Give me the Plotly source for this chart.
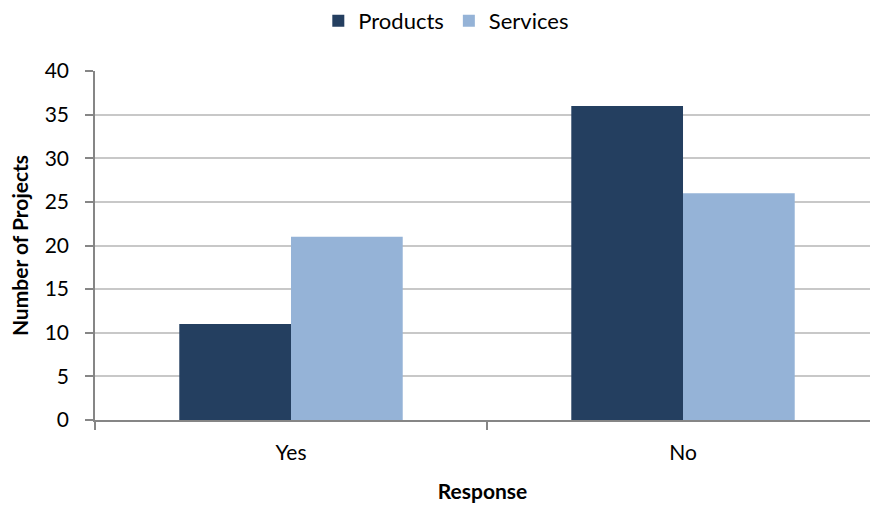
import plotly.graph_objects as go

categories = ["Yes", "No"]
products = [11, 36]
services = [21, 26]
y_ticks = [0, 5, 10, 15, 20, 25, 30, 35, 40]

FONT = "Lato, 'Open Sans', sans-serif"

fig = go.Figure()
fig.add_trace(go.Bar(name="Products", x=categories, y=products, marker_color="#243F60", marker_line_width=0))
fig.add_trace(go.Bar(name="Services", x=categories, y=services, marker_color="#95B3D7", marker_line_width=0))

fig.update_layout(
    width=870, height=506,
    margin=dict(l=95, r=0, t=71, b=86),
    paper_bgcolor="white", plot_bgcolor="white",
    barmode="group", bargap=0.43, bargroupgap=0,
    font=dict(family=FONT, size=21, color="#000000"),
    legend=dict(orientation="h", x=0.513, xref="container", xanchor="center", y=1.0, yref="container",
                yanchor="top", font=dict(size=22), itemwidth=30, traceorder="normal"),
    showlegend=True,
)
fig.update_xaxes(
    range=[-0.5, 1.477], showline=True, linecolor="#868686", linewidth=1.5,
    ticks="outside", tickson="boundaries", ticklen=8, tickcolor="#868686", tickwidth=1.5,
    showgrid=False, tickfont=dict(size=21), ticklabelstandoff=13,
    title=dict(text="<b>Response</b>", font=dict(size=21), standoff=21),
)
fig.update_yaxes(
    range=[0, 40], tickvals=y_ticks, showline=True, linecolor="#868686", linewidth=1.5,
    ticks="outside", ticklen=8, tickcolor="#868686", tickwidth=1.5,
    showgrid=True, gridcolor="#c8c8c8", gridwidth=1.5, zeroline=False,
    tickfont=dict(size=21), ticklabelstandoff=12,
    title=dict(text="<b>Number of Projects</b>", font=dict(size=21), standoff=10),
)
fig.write_html("out.html")
